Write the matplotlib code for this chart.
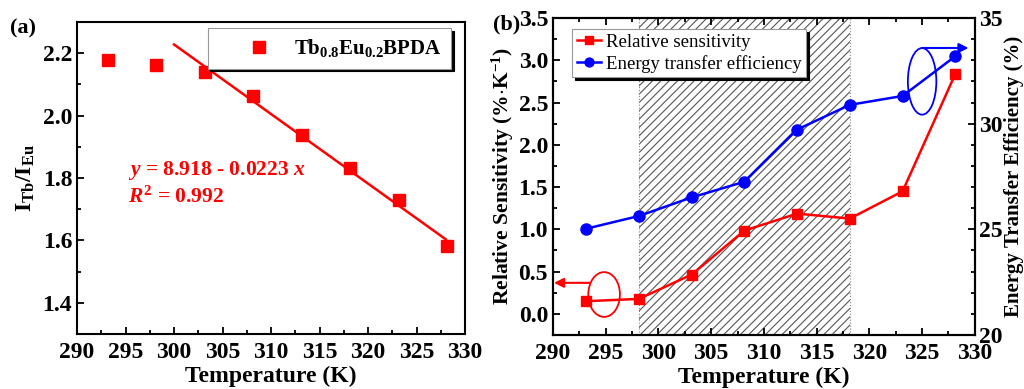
import matplotlib
matplotlib.use("Agg")
import matplotlib.pyplot as plt
from matplotlib.patches import Ellipse
from matplotlib.ticker import MultipleLocator, FormatStrFormatter

plt.rcParams['font.family'] = ['Liberation Serif', 'DejaVu Serif']
plt.rcParams['font.weight'] = 'bold'
plt.rcParams['mathtext.fontset'] = 'custom'
plt.rcParams['mathtext.rm'] = 'Liberation Serif:weight=bold'
plt.rcParams['mathtext.bf'] = 'Liberation Serif:weight=bold'
plt.rcParams['mathtext.it'] = 'Liberation Serif:style=italic:weight=bold'
plt.rcParams['mathtext.default'] = 'bf'
plt.rcParams['hatch.linewidth'] = 0.8

# ---------------- data ----------------
temps = [293.15, 298.15, 303.15, 308.15, 313.15, 318.15, 323.15, 328.15]
ratio = [2.179, 2.163, 2.139, 2.062, 1.937, 1.831, 1.729, 1.581]
fit_x = [300.0, 328.0]
fit_intercept = 8.918
fit_slope = -0.0223
sensitivity = [0.15, 0.177, 0.465, 0.985, 1.186, 1.127, 1.45, 2.838]
efficiency = [25.03, 25.63, 26.51, 27.25, 29.72, 30.89, 31.31, 33.19]
shade_range = [298.15, 318.15]

TICK = 17

fig = plt.figure(figsize=(10.24, 3.89), dpi=100)

def style_ax(ax, top=False, right=False):
    for s in ax.spines.values():
        s.set_linewidth(1.5)
    ax.tick_params(which='both', direction='in', top=top, right=right,
                   labelsize=TICK, width=1.3)
    ax.tick_params(which='major', length=5)
    ax.tick_params(which='minor', length=3)
    ax.tick_params(axis='x', pad=6)
    for lab in ax.get_xticklabels() + ax.get_yticklabels():
        lab.set_fontweight('bold')

# ---------------- panel (a) ----------------
axa = fig.add_axes([0.0752, 0.1414, 0.379, 0.802])
axa.plot(temps, ratio, 's', color='#ff0000', markersize=8, linestyle='none',
         label=r'$\mathbf{Tb_{0.8}Eu_{0.2}BPDA}$')
fy = [fit_intercept + fit_slope * x for x in fit_x]
axa.plot(fit_x, fy, '-', color='#ff0000', linewidth=1.8)
axa.set_xlim(290, 330)
axa.set_ylim(1.3, 2.3)
axa.xaxis.set_major_locator(MultipleLocator(5))
axa.xaxis.set_minor_locator(MultipleLocator(2.5))
axa.yaxis.set_minor_locator(MultipleLocator(0.1))
axa.set_yticks([1.4, 1.6, 1.8, 2.0, 2.2])
axa.yaxis.set_major_formatter(FormatStrFormatter('%.1f'))
style_ax(axa)
axa.set_xlabel('Temperature (K)', fontsize=17, fontweight='bold', labelpad=2)
axa.set_ylabel(r'$\mathbf{I_{Tb}/I_{Eu}}$', fontsize=17, labelpad=4)
axa.text(295.3, 1.825, r'$\mathit{y}$ = 8.918 - 0.0223 $\mathit{x}$', color='#ff0000',
         fontsize=15.5, fontweight='bold', va='center', ha='left')
axa.text(295.3, 1.738, r'$\mathit{R}^{\mathbf{2}}$ = 0.992', color='#ff0000',
         fontsize=15.5, fontweight='bold', va='center', ha='left')
lega = axa.legend(loc='upper right', frameon=True, fancybox=False,
                  shadow={'color': 'black', 'alpha': 1.0},
                  handlelength=4.0, handletextpad=-0.3,
                  borderpad=0.45, borderaxespad=0, bbox_to_anchor=(0.964, 0.981),
                  prop={'size': 15, 'weight': 'bold'})
lega.get_frame().set_edgecolor('#999999')
lega.get_frame().set_linewidth(0.8)
fig.text(0.010, 0.915, '(a)', fontsize=16, fontweight='bold')

# ---------------- panel (b) ----------------
axb = fig.add_axes([0.540, 0.1388, 0.412, 0.815])
axb.axvspan(shade_range[0], shade_range[1], facecolor='white', edgecolor='#555555',
            hatch='////', linewidth=0, zorder=0)
for xv in shade_range:
    axb.axvline(xv, color='#888888', linestyle=':', linewidth=0.8, zorder=0.5)
l1, = axb.plot(temps, sensitivity, '-s', color='#ff0000', linewidth=1.8,
               markersize=7, label='Relative sensitivity')
axb.set_xlim(290, 330)
axb.set_ylim(-0.25, 3.5)
axb.xaxis.set_major_locator(MultipleLocator(5))
axb.xaxis.set_minor_locator(MultipleLocator(2.5))
axb.yaxis.set_minor_locator(MultipleLocator(0.25))
axb.set_yticks([0.0, 0.5, 1.0, 1.5, 2.0, 2.5, 3.0, 3.5])
axb.yaxis.set_major_formatter(FormatStrFormatter('%.1f'))
style_ax(axb, top=True)
axb.set_xlabel('Temperature (K)', fontsize=17, fontweight='bold', labelpad=2)
axb.set_ylabel(r'Relative Sensitivity (%$\cdot$K$^{-1}$)', fontsize=15.5,
               fontweight='bold', labelpad=2)

axr = axb.twinx()
l2, = axr.plot(temps, efficiency, '-o', color='#0000ff', linewidth=1.8,
               markersize=8, label='Energy transfer efficiency')
axr.set_ylim(20, 35)
axr.yaxis.set_major_locator(MultipleLocator(5))
axr.yaxis.set_minor_locator(MultipleLocator(1))
style_ax(axr, right=True)
axr.tick_params(axis='y', which='both', left=False, pad=3)
axr.set_ylabel('Energy Transfer Efficiency (%)', fontsize=15, fontweight='bold',
               labelpad=1)

# annotations: ellipses and arrows
axb.add_patch(Ellipse((294.85, 0.229), 3.0, 0.53, fill=False, edgecolor='#ff0000',
                      linewidth=1.3, zorder=3))
axb.annotate('', xy=(290.1, 0.367), xytext=(293.5, 0.367),
             arrowprops=dict(arrowstyle='-|>', color='#ff0000', lw=1.5,
                             mutation_scale=14, shrinkA=0, shrinkB=0))
axr.add_patch(Ellipse((325.0, 32.0), 2.7, 3.15, fill=False, edgecolor='#0000ff',
                      linewidth=1.3, zorder=3))
axr.annotate('', xy=(329.4, 33.58), xytext=(325.0, 33.58),
             arrowprops=dict(arrowstyle='-|>', color='#0000ff', lw=1.5,
                             mutation_scale=14, shrinkA=0, shrinkB=0))

legb = axr.legend([l1, l2], ['Relative sensitivity', 'Energy transfer efficiency'],
                  loc='upper left', bbox_to_anchor=(0.045, 0.965), borderaxespad=0,
                  frameon=True, fancybox=False, shadow={'color': 'black', 'alpha': 1.0},
                  handlelength=1.3, handletextpad=0.25, borderpad=0.25,
                  labelspacing=0.2, markerscale=0.8,
                  prop={'size': 13.5, 'weight': 'normal'})
legb.get_frame().set_edgecolor('#999999')
legb.get_frame().set_linewidth(0.8)
fig.text(0.481, 0.925, '(b)', fontsize=16, fontweight='bold')

fig.savefig('out.png', dpi=100)
